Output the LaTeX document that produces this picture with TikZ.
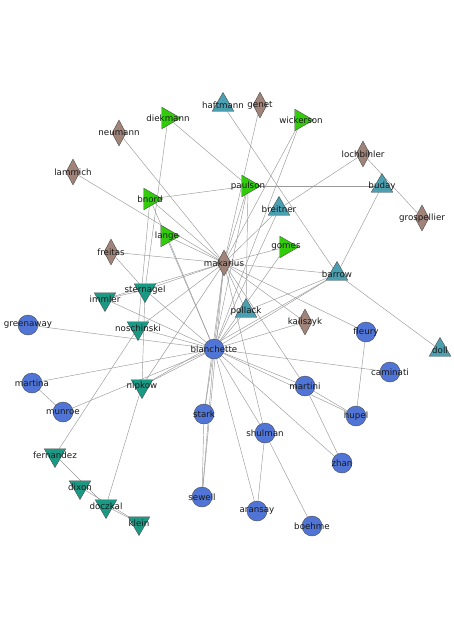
\documentclass[tikz,border=0pt]{standalone}
\usepackage{fontspec}
\setmainfont{DejaVu Sans}
\usetikzlibrary{shapes.geometric,backgrounds}
\definecolor{blueperson}{HTML}{5075D6}
\definecolor{tealup}{HTML}{4A9FB0}
\definecolor{greenright}{HTML}{33CC0A}
\definecolor{browndia}{HTML}{A0847A}
\definecolor{tealdown}{HTML}{1A9A85}
\begin{document}
\begin{tikzpicture}[x=1pt,y=-1pt,
  lbl/.style={font=\fontsize{8.7}{9}\selectfont, text=black!90},
  person/.style={circle, draw=black!70, fill=blueperson, minimum size=20pt, inner sep=0pt, label={[lbl]center:#1}},
  upper/.style={regular polygon, regular polygon sides=3, draw=black!70, fill=tealup, minimum size=25pt, inner sep=0pt, label={[lbl]center:#1}},
  righter/.style={regular polygon, regular polygon sides=3, shape border rotate=-90, draw=black!70, fill=greenright, minimum size=25pt, inner sep=0pt, label={[lbl]center:#1}},
  downer/.style={regular polygon, regular polygon sides=3, shape border rotate=180, draw=black!70, fill=tealdown, minimum size=25pt, inner sep=0pt, label={[lbl]center:#1}},
  gem/.style={diamond, draw=black!70, fill=browndia, minimum width=14pt, minimum height=26pt, inner sep=0pt, label={[lbl]center:#1}},
  edge/.style={draw=black!40, line width=0.45pt}]
\useasboundingbox (0,0) rectangle (453,637);

\node[upper=haftmann] (haftmann) at (223,105) {};
\node[gem=genet] (genet) at (260,105) {};
\node[righter=diekmann] (diekmann) at (168,118) {};
\node[righter=wickerson] (wickerson) at (301,120) {};
\node[gem=neumann] (neumann) at (119,133) {};
\node[gem=lochbihler] (lochbihler) at (363,154) {};
\node[gem=lammich] (lammich) at (73,172) {};
\node[upper=buday] (buday) at (382,186) {};
\node[righter=paulson] (paulson) at (248,186) {};
\node[righter=bnord] (bnord) at (150,199) {};
\node[upper=breitner] (breitner) at (279,209) {};
\node[gem=grospellier] (grospellier) at (422,218) {};
\node[righter=lange] (lange) at (167,236) {};
\node[righter=gomes] (gomes) at (286,247) {};
\node[gem=freitas] (freitas) at (111,252) {};
\node[gem=makarius] (makarius) at (224,263) {};
\node[upper=barrow] (barrow) at (337,274) {};
\node[downer=sternagel] (sternagel) at (145,290) {};
\node[downer=immler] (immler) at (105,299) {};
\node[upper=pollack] (pollack) at (246,311) {};
\node[gem=kaliszyk] (kaliszyk) at (305,322) {};
\node[person=greenaway] (greenaway) at (28,325) {};
\node[downer=noschinski] (noschinski) at (138,328) {};
\node[person=fleury] (fleury) at (366,332) {};
\node[upper=doll] (doll) at (440,350) {};
\node[person=blanchette] (blanchette) at (214,349) {};
\node[person=caminati] (caminati) at (390,372) {};
\node[person=martina] (martina) at (32,383) {};
\node[downer=nipkow] (nipkow) at (142,386) {};
\node[person=martini] (martini) at (305,386) {};
\node[person=munroe] (munroe) at (63,412) {};
\node[person=stark] (stark) at (204,414) {};
\node[person=hupel] (hupel) at (356,416) {};
\node[person=shulman] (shulman) at (265,433) {};
\node[downer=fernandez] (fernandez) at (55,455) {};
\node[person=zhan] (zhan) at (342,463) {};
\node[downer=dixon] (dixon) at (80,487) {};
\node[person=sewell] (sewell) at (202,497) {};
\node[downer=doczkal] (doczkal) at (106,506) {};
\node[person=aransay] (aransay) at (257,511) {};
\node[downer=klein] (klein) at (139,523) {};
\node[person=boehme] (boehme) at (312,526) {};

\begin{scope}[on background layer]
% makarius
\draw[edge] (makarius)--(lammich);
\draw[edge] (makarius)--(neumann);
\draw[edge] (makarius)--(bnord);
\draw[edge] (makarius)--(lange);
\draw[edge] (makarius)--(freitas);
\draw[edge] (makarius)--(genet);
\draw[edge] (makarius)--(wickerson);
\draw[edge] (makarius)--(paulson);
\draw[edge] (makarius)--(breitner);
\draw[edge] (makarius)--(gomes);
\draw[edge] (makarius)--(barrow);
\draw[edge] (makarius)--(sternagel);
\draw[edge] (makarius)--(immler);
\draw[edge] (makarius)--(noschinski);
\draw[edge] (makarius)--(nipkow);
\draw[edge] (makarius)--(pollack);
\draw[edge] (makarius)--(kaliszyk);
\draw[edge] (makarius)--(fleury);
\draw[edge] (makarius)--(blanchette);
\draw[edge] (makarius)--(stark);
\draw[edge] (makarius)--(sewell);
\draw[edge] (makarius)--(shulman);
\draw[edge] (makarius)--(martini);
% blanchette
\draw[edge] (blanchette)--(wickerson);
\draw[edge] (blanchette)--(paulson);
\draw[edge] (blanchette)--(breitner);
\draw[edge] (blanchette)--(gomes);
\draw[edge] (blanchette)--(bnord);
\draw[edge] (blanchette)--(lange);
\draw[edge] (blanchette)--(barrow);
\draw[edge] (blanchette)--(sternagel);
\draw[edge] (blanchette)--(immler);
\draw[edge] (blanchette)--(noschinski);
\draw[edge] (blanchette)--(greenaway);
\draw[edge] (blanchette)--(martina);
\draw[edge] (blanchette)--(munroe);
\draw[edge] (blanchette)--(nipkow);
\draw[edge] (blanchette)--(pollack);
\draw[edge] (blanchette)--(kaliszyk);
\draw[edge] (blanchette)--(caminati);
\draw[edge] (blanchette)--(martini);
\draw[edge] (blanchette)--(hupel);
\draw[edge] (blanchette)--(zhan);
\draw[edge] (blanchette)--(shulman);
\draw[edge] (blanchette)--(stark);
\draw[edge] (blanchette)--(sewell);
\draw[edge] (blanchette)--(aransay);
% the rest
\draw[edge] (haftmann)--(barrow);
\draw[edge] (diekmann)--(paulson);
\draw[edge] (diekmann)--(sternagel);
\draw[edge] (bnord)--(paulson);
\draw[edge] (bnord)--(noschinski);
\draw[edge] (paulson)--(buday);
\draw[edge] (paulson)--(pollack);
\draw[edge] (lochbihler)--(breitner);
\draw[edge] (lochbihler)--(grospellier);
\draw[edge] (buday)--(barrow);
\draw[edge] (barrow)--(doll);
\draw[edge] (barrow)--(pollack);
\draw[edge] (barrow)--(nipkow);
\draw[edge] (freitas)--(sternagel);
\draw[edge] (sternagel)--(immler);
\draw[edge] (sternagel)--(nipkow);
\draw[edge] (noschinski)--(fernandez);
\draw[edge] (martina)--(munroe);
\draw[edge] (nipkow)--(doczkal);
\draw[edge] (stark)--(sewell);
\draw[edge] (shulman)--(aransay);
\draw[edge] (shulman)--(boehme);
\draw[edge] (martini)--(hupel);
\draw[edge] (martini)--(zhan);
\draw[edge] (hupel)--(fleury);
\draw[edge] (fernandez)--(doczkal);
\draw[edge] (dixon)--(klein);
\draw[edge] (doczkal)--(klein);
\end{scope}
\end{tikzpicture}
\end{document}
